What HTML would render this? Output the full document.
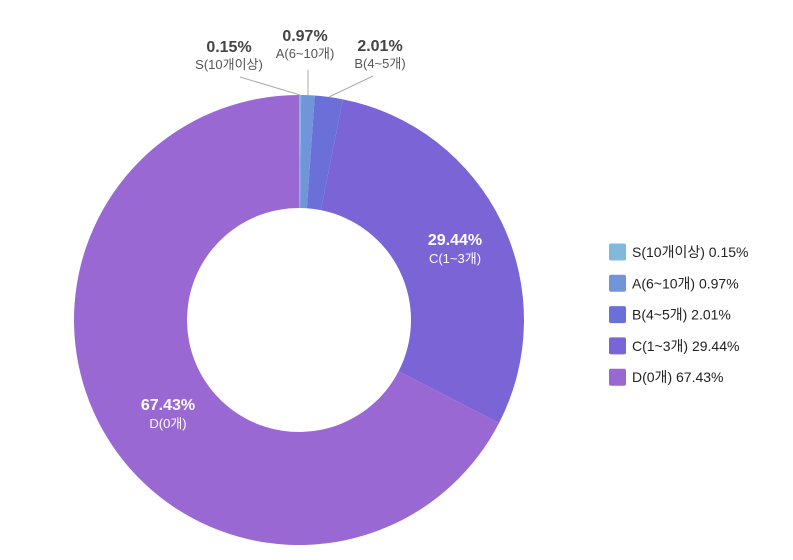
<!DOCTYPE html>
<html><head><meta charset="utf-8"><style>
html,body{margin:0;padding:0;background:#fff;width:793px;height:560px;overflow:hidden;font-family:"Liberation Sans","Noto Sans CJK KR",sans-serif}
svg{display:block}
</style></head><body>
<svg id="chart" width="793" height="560" xmlns="http://www.w3.org/2000/svg"></svg>
<script>
const categories = ["S(10개이상)", "A(6~10개)", "B(4~5개)", "C(1~3개)", "D(0개)"];
const values = [0.15, 0.97, 2.01, 29.44, 67.43];
const valueLabels = ["0.15%", "0.97%", "2.01%", "29.44%", "67.43%"];
const colors = ["#80b9dc", "#7195d9", "#6b70d8", "#7b65d6", "#9a68d3"];

const NS = "http://www.w3.org/2000/svg";
const svg = document.getElementById("chart");
const cx = 299, cy = 320, R = 225, r = 112;
const total = values.reduce((a, b) => a + b, 0);
function pt(rad, ang) { return [cx + rad * Math.sin(ang), cy - rad * Math.cos(ang)]; }
function mk(tag, attrs) { const e = document.createElementNS(NS, tag); for (const k in attrs) e.setAttribute(k, attrs[k]); svg.appendChild(e); return e; }

let acc = 0;
const mids = [];
values.forEach((v, i) => {
  const a0 = acc / total * 2 * Math.PI;
  acc += v;
  const a1 = acc / total * 2 * Math.PI;
  mids.push((a0 + a1) / 2);
  const large = (a1 - a0) > Math.PI ? 1 : 0;
  const p0 = pt(R, a0), p1 = pt(R, a1), q1 = pt(r, a1), q0 = pt(r, a0);
  const d = `M${p0[0]},${p0[1]} A${R},${R} 0 ${large} 1 ${p1[0]},${p1[1]} L${q1[0]},${q1[1]} A${r},${r} 0 ${large} 0 ${q0[0]},${q0[1]} Z`;
  const p = mk("path", { d: d, fill: colors[i] });
  
  
});

// outside labels for small slices
const outPos = [[229, 52, 240, 77], [305, 41, 0, 0], [380, 51, 373, 76]];
for (let i = 0; i < 3; i++) {
  const e = pt(R, mids[i]);
  const lx = i === 1 ? e[0] : outPos[i][2];
  const ly = i === 1 ? 70 : outPos[i][3];
  const ln = mk("line", { x1: e[0], y1: e[1], x2: lx, y2: ly, stroke: "#aaa", "stroke-width": 1 });
  
  
  const t1 = mk("text", { x: outPos[i][0], y: outPos[i][1], "text-anchor": "middle", "font-size": 16, "font-weight": "bold", fill: "#444" });
  t1.textContent = valueLabels[i];
  
  
  const t2 = mk("text", { x: outPos[i][0], y: outPos[i][1] + 17, "text-anchor": "middle", "font-size": 13, fill: "#555" });
  t2.textContent = categories[i];
  
  
}
// inside labels
const inPos = [[455, 245], [168, 410]];
[3, 4].forEach((i, k) => {
  const t1 = mk("text", { x: inPos[k][0], y: inPos[k][1], "text-anchor": "middle", "font-size": 16, "font-weight": "bold", fill: "#fff" });
  t1.textContent = valueLabels[i];
  
  
  const t2 = mk("text", { x: inPos[k][0], y: inPos[k][1] + 18, "text-anchor": "middle", "font-size": 13, fill: "#fff" });
  t2.textContent = categories[i];
  
  
});
// legend
categories.forEach((c, i) => {
  const y = 252 + i * 31.3;
  const sq = mk("rect", { x: 609, y: y - 8.5, width: 17, height: 17, rx: 2, fill: colors[i] });
  
  
  const t = mk("text", { x: 632, y: y + 5, "font-size": 14, fill: "#222" });
  t.textContent = c + " " + valueLabels[i];
  
  
});
</script>
</body></html>
